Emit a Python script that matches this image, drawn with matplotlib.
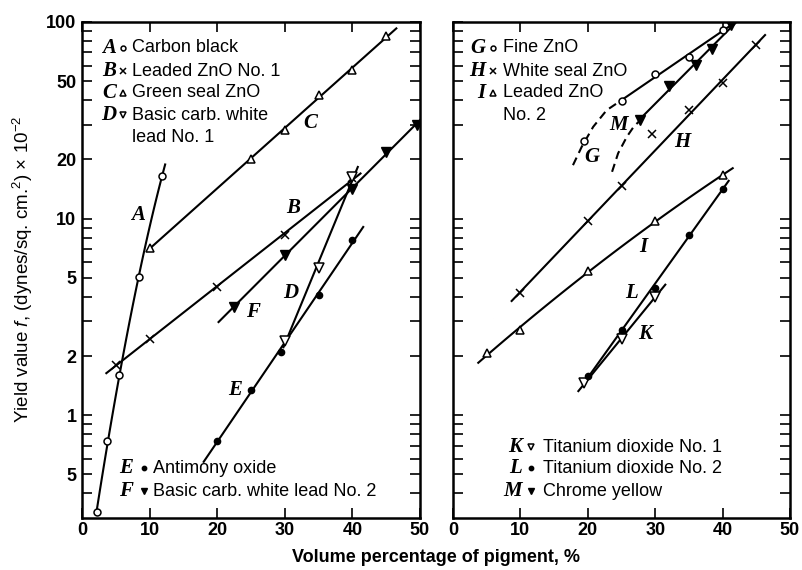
import numpy as np
import matplotlib
matplotlib.use('Agg')
import matplotlib.pyplot as plt
from matplotlib.ticker import NullLocator

plt.rcParams['font.family'] = ['Liberation Sans', 'DejaVu Sans']
plt.rcParams['mathtext.fontset'] = 'custom'
plt.rcParams['mathtext.rm'] = 'Liberation Sans'
plt.rcParams['mathtext.it'] = 'Liberation Sans:italic'
plt.rcParams['mathtext.bf'] = 'Liberation Sans:bold'

# ---- datos (panel izquierdo) ----
a_x = [2.2, 3.75, 5.5, 8.5, 11.8]
a_y = [0.32, 0.74, 1.6, 5.05, 16.5]
b_x = [5, 10, 20, 30, 40]
b_y = [1.8, 2.44, 4.5, 8.3, 16.0]
c_x = [10, 25, 30, 35, 40, 45]
c_y = [7.1, 20.1, 28.2, 42.5, 57.0, 85.0]
d_x = [30, 35, 40]
d_y = [2.39, 5.58, 16.3]
e_x = [20, 25, 29.5, 35, 40]
e_y = [0.74, 1.35, 2.1, 4.1, 7.8]
f_x = [22.5, 30, 40, 45, 49.5]
f_y = [3.56, 6.5, 14.2, 21.9, 29.9]

# ---- panel derecho ----
g_x = [19.5, 25, 30, 35, 40]
g_y = [24.8, 39.6, 54.2, 66.6, 91.0]
g_dash_x = [17.8, 19.1, 20.8, 22.8, 24.8]
g_dash_y = [18.7, 23.2, 29.3, 35.6, 39.6]
h_x = [10, 20, 25, 35, 40, 45]
h_y = [4.2, 9.75, 14.6, 35.7, 49.1, 76.4]
h_out_x = [29.5]
h_out_y = [26.9]
i_x = [5, 10, 20, 30, 40]
i_y = [2.06, 2.71, 5.4, 9.7, 16.6]
k_x = [19.5, 25, 30]
k_y = [1.45, 2.45, 4.0]
l_x = [20, 25, 30, 35, 40]
l_y = [1.58, 2.7, 4.45, 8.3, 14.2]
m_x = [27.8, 32, 36, 38.5, 41.3]
m_y = [31.7, 47.2, 60.4, 73.0, 96.6]
m_dash_x = [23.6, 24.5, 25.8, 26.8, 27.8]
m_dash_y = [17.3, 21.5, 26.1, 29.3, 31.7]

# extension de cada curva trazada (en % de volumen)
rangos = {'A': (2.2, 12.3), 'B': (3.6, 41.2), 'C': (9.8, 46.5), 'D': (29.8, 40.8),
          'E': (18.0, 41.6), 'F': (20.2, 50), 'G': (24.8, 41), 'H': (8.7, 46.3),
          'I': (3.75, 41.5), 'K': (18.6, 31.5), 'L': (19.3, 40.9), 'M': (27.8, 43)}

abierto = dict(mfc='white', mec='black', mew=1.1)
lleno = dict(mfc='black', mec='black')
estilos = {'A': dict(marker='o', ms=5, **abierto), 'B': dict(marker='x', ms=6, mec='black', mew=1.1),
           'C': dict(marker='^', ms=6, **abierto), 'D': dict(marker='v', ms=6.5, **abierto),
           'E': dict(marker='o', ms=4.5, **lleno), 'F': dict(marker='v', ms=7, **lleno),
           'G': dict(marker='o', ms=5, **abierto), 'H': dict(marker='x', ms=6, mec='black', mew=1.1),
           'I': dict(marker='^', ms=6, **abierto), 'K': dict(marker='v', ms=6.5, **abierto),
           'L': dict(marker='o', ms=4.5, **lleno), 'M': dict(marker='v', ms=7, **lleno)}


def curva(ax, x, y, clave, grado=1):
    # recta (o curva suave) ajustada en escala semilog
    coef = np.polyfit(x, np.log10(y), grado)
    xs = np.linspace(rangos[clave][0], rangos[clave][1], 100)
    ax.plot(xs, 10 ** np.polyval(coef, xs), color='black', lw=1.5, zorder=2)
    ax.plot(x, y, ls='none', zorder=3, **estilos[clave])


fig = plt.figure(figsize=(8.02, 5.70), dpi=100)
ax1 = fig.add_axes([82 / 802, 1 - 518 / 570, 338 / 802, 496 / 570])
ax2 = fig.add_axes([453 / 802, 1 - 518 / 570, 337 / 802, 496 / 570])

curva(ax1, a_x, a_y, 'A', grado=2)
curva(ax1, b_x, b_y, 'B')
curva(ax1, c_x, c_y, 'C')
curva(ax1, d_x, d_y, 'D')
curva(ax1, e_x, e_y, 'E')
curva(ax1, f_x, f_y, 'F')

curva(ax2, g_x[1:], g_y[1:], 'G')
ax2.plot(g_x[:1], g_y[:1], ls='none', zorder=3, **estilos['G'])
ax2.plot(g_dash_x, g_dash_y, color='black', lw=1.5, dashes=(4, 2.5))
curva(ax2, h_x, h_y, 'H')
ax2.plot(h_out_x, h_out_y, ls='none', zorder=3, **estilos['H'])
curva(ax2, i_x, i_y, 'I', grado=2)
curva(ax2, k_x, k_y, 'K')
curva(ax2, l_x, l_y, 'L')
curva(ax2, m_x, m_y, 'M')
ax2.plot(m_dash_x, m_dash_y, color='black', lw=1.5, dashes=(4, 2.5))

# ejes
yt = np.concatenate([np.arange(4, 10) * 0.1, np.arange(1, 10), np.arange(10, 100, 10), [100]])
etiq = {0.5: '5', 1: '1', 2: '2', 5: '5', 10: '10', 20: '20', 50: '50', 100: '100'}
for ax in (ax1, ax2):
    ax.set_yscale('log')
    ax.set_ylim(0.3, 100)
    ax.set_xlim(0, 50)
    ax.set_xticks([0, 10, 20, 30, 40, 50])
    ax.set_yticks(yt, [etiq.get(round(t, 3), '') for t in yt])
    ax.yaxis.set_minor_locator(NullLocator())
    ax.tick_params(axis='both', direction='in', length=7, width=1.2, top=True, right=True,
                   labelsize=13, pad=4)
    ax.tick_params(axis='x', pad=3)
    for s in ax.spines.values():
        s.set_linewidth(1.8)
    for lbl in ax.get_xticklabels() + ax.get_yticklabels():
        lbl.set_fontweight('bold')
ax2.tick_params(axis='y', labelleft=False)

# letras sobre las curvas
letras1 = {'A': (8.3, 10.4), 'B': (31.2, 11.3), 'C': (33.7, 30.5), 'D': (30.9, 4.19),
           'E': (22.6, 1.34), 'F': (25.3, 3.36)}
letras2 = {'G': (20.6, 20.6), 'M': (24.5, 29.9), 'H': (34.0, 24.6), 'I': (28.2, 7.13),
           'L': (26.5, 4.19), 'K': (28.5, 2.58)}
fuente_letra = dict(family='Liberation Serif', style='italic', weight='bold', size=15,
                    ha='center', va='center')
for ax, letras in ((ax1, letras1), (ax2, letras2)):
    for k, (x, y) in letras.items():
        ax.text(x, y, k, **fuente_letra)


def leyenda(ax, filas, xl, xm, xt):
    for letra, texto, y in filas:
        ax.text(xl, y, letra, transform=ax.transAxes, family='Liberation Serif', style='italic',
                weight='bold', size=15, ha='right', va='center')
        if letra:
            st = dict(estilos[letra])
            st['ms'] = st['ms'] * 0.7
            ax.plot([xm], [y], transform=ax.transAxes, ls='none', clip_on=False, **st)
        ax.text(xt, y, texto, transform=ax.transAxes, size=13, ha='left', va='center')


leyenda(ax1, [('A', 'Carbon black', 0.9476), ('B', 'Leaded ZnO No. 1', 0.9012),
              ('C', 'Green seal ZnO', 0.8569), ('D', 'Basic carb. white', 0.8125),
              ('', 'lead No. 1', 0.7681)], 0.101, 0.121, 0.148)
leyenda(ax1, [('E', 'Antimony oxide', 0.1008), ('F', 'Basic carb. white lead No. 2', 0.0544)],
        0.151, 0.183, 0.210)
leyenda(ax2, [('G', 'Fine ZnO', 0.9476), ('H', 'White seal ZnO', 0.9012),
              ('I', 'Leaded ZnO', 0.8569), ('', 'No. 2', 0.8125)], 0.095, 0.119, 0.148)
leyenda(ax2, [('K', 'Titanium dioxide No. 1', 0.1431), ('L', 'Titanium dioxide No. 2', 0.1008),
              ('M', 'Chrome yellow', 0.0544)], 0.205, 0.2315, 0.267)

fig.text(436 / 802, 1 - 558 / 570, 'Volume percentage of pigment, %', ha='center', va='center',
         size=13, weight='bold')
fig.text(23 / 802, 1 - 269 / 570, r'Yield value $f$, (dynes/sq. cm.$^2$) $\times$ 10$^{-2}$',
         rotation=90, ha='center', va='center', size=13.5)

fig.savefig('out.png', dpi=100)
